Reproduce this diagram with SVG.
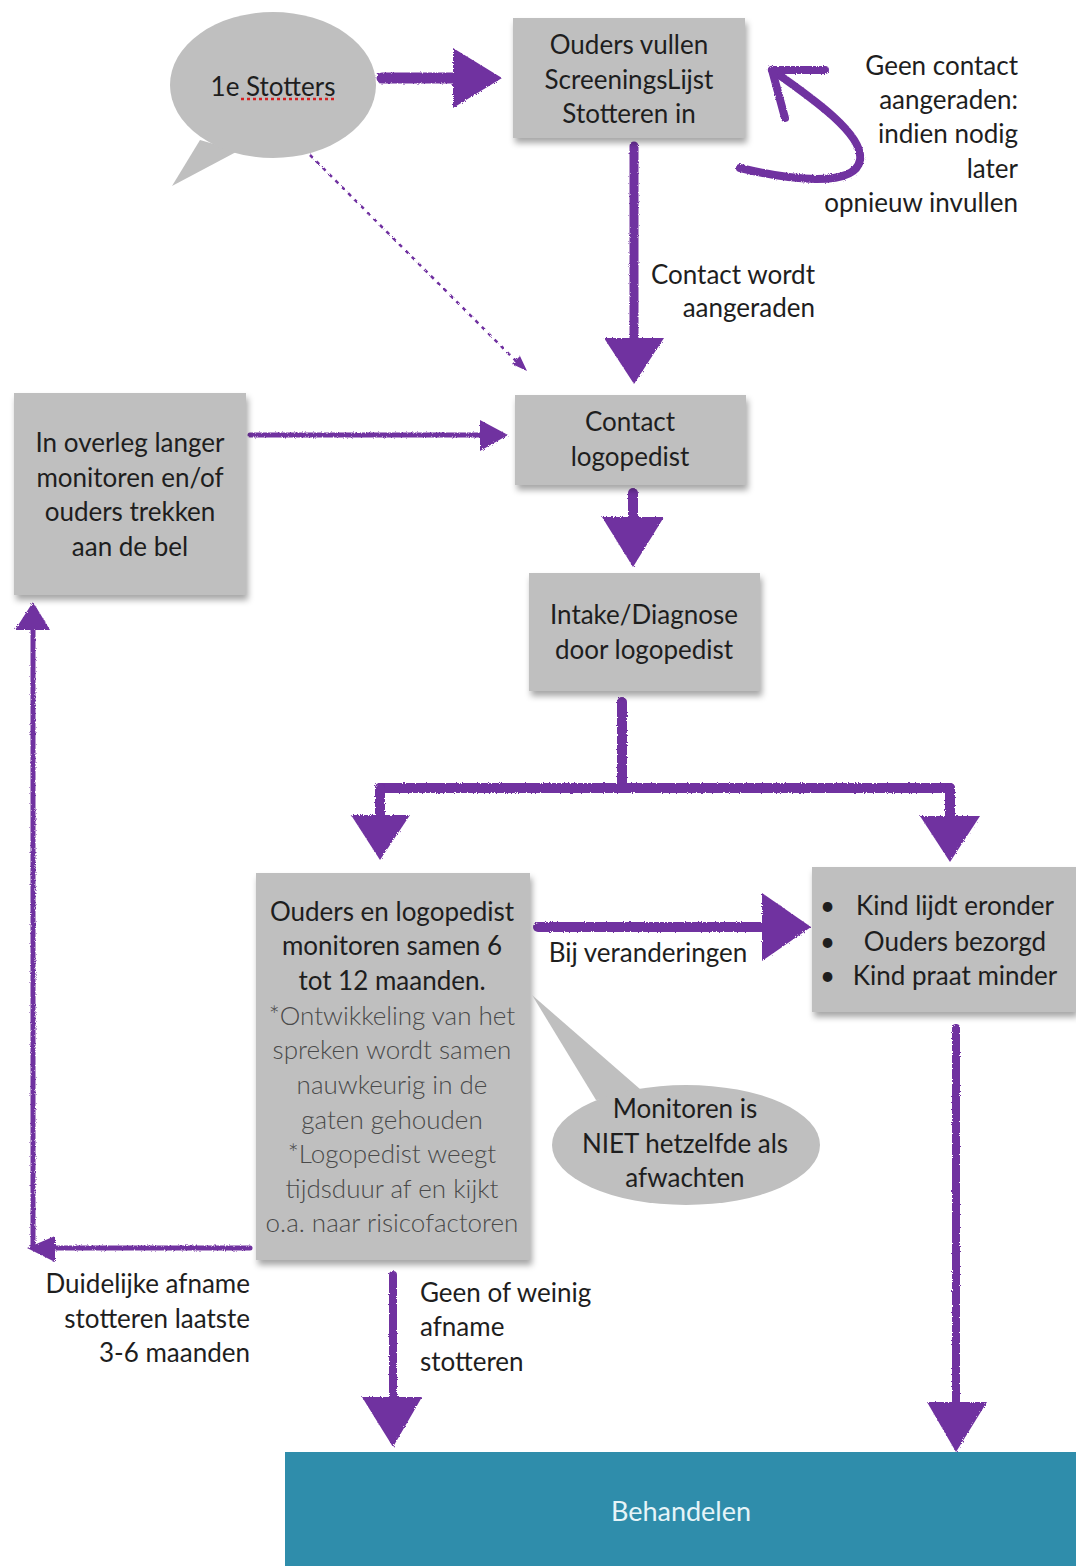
<svg xmlns="http://www.w3.org/2000/svg" width="1076" height="1566" viewBox="0 0 1076 1566">
<defs>
<style>
.box{fill:#bfbfbf;filter:url(#sh)}
.t{font-family:Lato,"Open Sans","Liberation Sans",sans-serif;font-size:26px;fill:#1e1e1e}
.g{fill:#4a4a4a;font-weight:300}
.m{text-anchor:middle}
.r{text-anchor:end}
.ln{stroke:#7030a0;fill:none;stroke-linecap:round}
.hd{fill:#7030a0}
</style>
<filter id="sh" x="-10%" y="-10%" width="125%" height="125%">
<feDropShadow dx="2" dy="5" stdDeviation="3" flood-color="#000" flood-opacity="0.35"/>
</filter>
<filter id="rough" x="-5%" y="-5%" width="110%" height="110%">
<feTurbulence type="fractalNoise" baseFrequency="0.9" numOctaves="2" result="n"/>
<feDisplacementMap in="SourceGraphic" in2="n" scale="3"/>
</filter>
</defs>
<rect width="1076" height="1566" fill="#fff"/>

<g id="connectors" filter="url(#rough)">
<line class="ln" x1="382" y1="78" x2="458" y2="78" stroke-width="11"/>
<polygon class="hd" points="453,48 502,78 453,108"/>
<path class="ln" d="M740,168 C790,180 855,188 860,160 C864,135 815,100 772,70" stroke-width="8"/>
<path class="ln" d="M772,70 L825,70 M772,70 L785,118" stroke-width="8"/>
<line class="ln" x1="634" y1="146" x2="634" y2="340" stroke-width="9"/>
<polygon class="hd" points="604,338 664,338 634,384"/>
<line x1="310" y1="155" x2="520" y2="365" stroke="#7030a0" stroke-width="2.5" stroke-dasharray="4 5"/>
<polygon class="hd" points="527,371 512,364 520,356"/>
<line class="ln" x1="250" y1="435" x2="484" y2="435" stroke-width="5"/>
<polygon class="hd" points="480,420 508,435 480,451"/>
<line class="ln" x1="633" y1="493" x2="633" y2="520" stroke-width="10"/>
<polygon class="hd" points="602,517 664,517 633,567"/>
<line class="ln" x1="622" y1="702" x2="622" y2="788" stroke-width="10"/>
<line class="ln" x1="380" y1="788" x2="950" y2="788" stroke-width="10"/>
<line class="ln" x1="380" y1="788" x2="380" y2="818" stroke-width="10"/>
<polygon class="hd" points="351,815 410,815 380,860"/>
<line class="ln" x1="950" y1="788" x2="950" y2="818" stroke-width="10"/>
<polygon class="hd" points="920,816 980,816 950,862"/>
<line class="ln" x1="538" y1="927" x2="765" y2="927" stroke-width="10"/>
<polygon class="hd" points="762,893 811,927 762,961"/>
<line class="ln" x1="250" y1="1248" x2="50" y2="1248" stroke-width="5"/>
<polygon class="hd" points="55,1236 27,1248 55,1262"/>
<line class="ln" x1="33" y1="1246" x2="33" y2="626" stroke-width="5"/>
<polygon class="hd" points="15,630 33,602 50,630"/>
<line class="ln" x1="393" y1="1275" x2="393" y2="1400" stroke-width="8"/>
<polygon class="hd" points="362,1397 422,1397 393,1447"/>
<line class="ln" x1="956" y1="1028" x2="956" y2="1405" stroke-width="8"/>
<polygon class="hd" points="927,1402 987,1402 956,1452"/>
</g>

<g id="n-stotters">
<path d="M200,140 L172,186 L238,151 Z" fill="#bfbfbf"/>
<ellipse cx="273" cy="85" rx="103" ry="73" fill="#bfbfbf"/>
<text class="t m" x="273" y="96">1e Stotters</text>
<line x1="241" y1="99" x2="335" y2="99" stroke="#d62020" stroke-width="2.5" stroke-dasharray="3 3"/>
</g>

<g id="n-screening">
<rect class="box" x="513" y="18" width="232" height="120"/>
<text class="t m" x="629" y="54">Ouders vullen</text>
<text class="t m" x="629" y="89">ScreeningsLijst</text>
<text class="t m" x="629" y="123">Stotteren in</text>
</g>

<g id="n-geencontact">
<text class="t r" x="1018" y="75">Geen contact</text>
<text class="t r" x="1018" y="109">aangeraden:</text>
<text class="t r" x="1018" y="143">indien nodig</text>
<text class="t r" x="1018" y="178">later</text>
<text class="t r" x="1018" y="212">opnieuw invullen</text>
</g>

<g id="n-contactwordt">
<text class="t r" x="815" y="284">Contact wordt</text>
<text class="t r" x="815" y="317">aangeraden</text>
</g>

<g id="n-contact">
<rect class="box" x="515" y="395" width="231" height="90"/>
<text class="t m" x="630" y="431">Contact</text>
<text class="t m" x="630" y="466">logopedist</text>
</g>

<g id="n-overleg">
<rect class="box" x="14" y="393" width="232" height="202"/>
<text class="t m" x="130" y="452">In overleg langer</text>
<text class="t m" x="130" y="487">monitoren en/of</text>
<text class="t m" x="130" y="521">ouders trekken</text>
<text class="t m" x="130" y="556">aan de bel</text>
</g>

<g id="n-intake">
<rect class="box" x="529" y="573" width="231" height="118"/>
<text class="t m" x="644" y="624">Intake/Diagnose</text>
<text class="t m" x="644" y="659">door logopedist</text>
</g>

<g id="n-monitoren">
<rect class="box" x="256" y="873" width="274" height="387"/>
<text class="t m" x="392" y="921">Ouders en logopedist</text>
<text class="t m" x="392" y="955">monitoren samen 6</text>
<text class="t m" x="392" y="990">tot 12 maanden.</text>
<text class="t g m" x="392" y="1025">*Ontwikkeling van het</text>
<text class="t g m" x="392" y="1059">spreken wordt samen</text>
<text class="t g m" x="392" y="1094">nauwkeurig in de</text>
<text class="t g m" x="392" y="1129">gaten gehouden</text>
<text class="t g m" x="392" y="1163">*Logopedist weegt</text>
<text class="t g m" x="392" y="1198">tijdsduur af en kijkt</text>
<text class="t g m" x="392" y="1232">o.a. naar risicofactoren</text>
</g>

<g id="n-bijver">
<text class="t m" x="648" y="962">Bij veranderingen</text>
</g>

<g id="n-kind">
<rect class="box" x="812" y="867" width="264" height="145"/>
<text class="t" x="820" y="915">•</text>
<text class="t" x="820" y="951">•</text>
<text class="t" x="820" y="985">•</text>
<text class="t m" x="955" y="915">Kind lijdt eronder</text>
<text class="t m" x="955" y="951">Ouders bezorgd</text>
<text class="t m" x="955" y="985">Kind praat minder</text>
</g>

<g id="n-bubble2">
<path d="M596,1100 L532,995 L648,1096 Z" fill="#bfbfbf"/>
<ellipse cx="686" cy="1145" rx="134" ry="60" fill="#bfbfbf"/>
<text class="t m" x="685" y="1118">Monitoren is</text>
<text class="t m" x="685" y="1153">NIET hetzelfde als</text>
<text class="t m" x="685" y="1187">afwachten</text>
</g>

<g id="n-duidelijk">
<text class="t r" x="250" y="1293">Duidelijke afname</text>
<text class="t r" x="250" y="1328">stotteren laatste</text>
<text class="t r" x="250" y="1362">3-6 maanden</text>
</g>

<g id="n-geenofweinig">
<text class="t" x="420" y="1302">Geen of weinig</text>
<text class="t" x="420" y="1336">afname</text>
<text class="t" x="420" y="1371">stotteren</text>
</g>

<g id="n-behandelen">
<rect x="285" y="1452" width="791" height="114" fill="#2f8dab"/>
<text class="t m" x="681" y="1521" style="fill:#e6f4f8;font-size:27px">Behandelen</text>
</g>
</svg>
